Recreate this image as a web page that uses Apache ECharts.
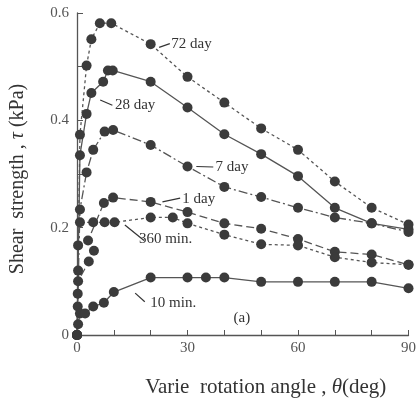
<!DOCTYPE html>
<html><head><meta charset="utf-8">
<script src="https://cdn.jsdelivr.net/npm/echarts@6/dist/echarts.min.js"></script>
<style>html,body{margin:0;padding:0;background:#fff}#c{width:419px;height:403px}</style>
</head><body><div id="c"></div>
<script>
// [theta (deg), tau (kPa)]
const day72 = [[0,0],[0.8,0.373],[2.6,0.502],[3.9,0.551],[6.2,0.581],[9.3,0.581],[20,0.542],[30,0.481],[40,0.433],[50,0.385],[60,0.345],[70,0.286],[80,0.237],[90,0.206]];
const day28 = [[0,0],[0.8,0.335],[2.6,0.412],[3.9,0.451],[7.1,0.472],[8.4,0.493],[9.7,0.493],[20,0.472],[30,0.424],[40,0.374],[50,0.337],[60,0.296],[70,0.237],[80,0.208],[90,0.197]];
const day7 = [[0,0],[0.8,0.234],[2.6,0.303],[4.4,0.345],[7.5,0.379],[9.8,0.382],[20,0.354],[30,0.314],[40,0.276],[50,0.257],[60,0.237],[70,0.219],[80,0.208],[90,0.192]];
const day1 = [[0,0],[0.2,0.053],[0.3,0.10],[3.2,0.137],[4.6,0.157],[3.0,0.176],[7.3,0.246],[9.8,0.256],[20,0.248],[30,0.229],[40,0.208],[50,0.198],[60,0.179],[70,0.155],[80,0.150],[90,0.131]];
const min360 = [[0,0],[0.2,0.077],[0.3,0.12],[0.3,0.167],[0.8,0.21],[4.4,0.21],[7.5,0.21],[10.2,0.21],[20,0.219],[26,0.219],[30,0.208],[40,0.187],[50,0.169],[60,0.167],[70,0.145],[80,0.135],[90,0.131]];
const min10 = [[0,0],[0.3,0.02],[0.8,0.04],[2.2,0.04],[4.4,0.053],[7.3,0.06],[10,0.08],[20,0.107],[30,0.107],[35,0.107],[40,0.107],[50,0.099],[60,0.099],[70,0.099],[80,0.099],[90,0.087]];

const seriesNames = ['72 day','28 day','7 day','1 day','360 min.','10 min.'];
const seriesData = [day72, day28, day7, day1, min360, min10];
const dashTypes = [[3,3],'solid',[9,3,2,3],[8,4],[3,3],'solid'];

const xTickLabels = [0,30,60,90];
const yTickLabels = [0,0.2,0.4,0.6];

// annotation: [text, textX, textY, leaderFromX, leaderFromY, leaderToX, leaderToY] in data coords
const annotations = [
  ['72 day', 25.6, 0.542, 22.3, 0.536, 25.2, 0.543],
  ['28 day', 10.3, 0.428, 6.3, 0.438, 9.6, 0.428],
  ['7 day', 37.6, 0.312, 32.4, 0.314, 37.0, 0.313],
  ['1 day', 28.6, 0.254, 23.2, 0.248, 28.0, 0.255],
  ['360 min.', 16.8, 0.178, 13.0, 0.205, 18.2, 0.176],
  ['10 min.', 19.9, 0.060, 15.8, 0.078, 18.4, 0.062],
  ['(a)', 42.5, 0.031, null, null, null, null]
];

const chart = echarts.init(document.getElementById('c'), null, {renderer:'canvas'});
const serif = '"Liberation Serif","DejaVu Serif",serif';
const option = {
  animation: false,
  grid: {left: 77, right: 7, top: 13, bottom: 59},
  xAxis: {
    type: 'value', min: 0, max: 90, interval: 10,
    name: 'Varie  rotation angle , {i|θ}(deg)',
    nameLocation: 'middle', nameGap: 42,
    nameTextStyle: {fontFamily: serif, fontSize: 21, color: '#333', padding: [0,0,0,46],
      rich: {i: {fontFamily: serif, fontStyle: 'italic', fontSize: 21, color: '#333'}}},
    axisLine: {lineStyle: {color: '#555', width: 1.3}},
    axisTick: {inside: true, length: 5, lineStyle: {color: '#555'}},
    axisLabel: {fontFamily: serif, fontSize: 15, color: '#555', margin: 6,
      formatter: v => xTickLabels.indexOf(v) >= 0 ? String(v) : ''},
    splitLine: {show: false}
  },
  yAxis: {
    type: 'value', min: 0, max: 0.6, interval: 0.1,
    name: 'Shear  strength , {i|τ} (kPa)',
    nameLocation: 'middle', nameGap: 49, nameRotate: 90,
    nameTextStyle: {fontFamily: serif, fontSize: 20, color: '#333', padding: [0,10,0,0],
      rich: {i: {fontFamily: serif, fontStyle: 'italic', fontSize: 20, color: '#333'}}},
    axisLine: {lineStyle: {color: '#555', width: 1.3}},
    axisTick: {inside: true, length: 6, lineStyle: {color: '#555'}},
    axisLabel: {fontFamily: serif, fontSize: 15, color: '#555', margin: 8,
      formatter: v => { const r = Math.round(v*10)/10; return yTickLabels.some(t => Math.abs(t-r)<1e-9) ? (r===0?'0':r.toFixed(1)) : ''; }},
    splitLine: {show: false}
  },
  series: seriesData.map((d, i) => ({
    name: seriesNames[i], type: 'line', data: d,
    symbol: 'circle', symbolSize: 10,
    itemStyle: {color: '#3b3b3b'},
    lineStyle: {color: '#555', width: 1.3, type: dashTypes[i]},
    emphasis: {disabled: true}
  }))
};
chart.setOption(option);

const g = [];
annotations.forEach(a => {
  const p = chart.convertToPixel({gridIndex: 0}, [a[1], a[2]]);
  g.push({type: 'text', x: p[0], y: p[1], style: {text: a[0], fontFamily: serif, fontSize: 15, fill: '#333', textVerticalAlign: 'middle', textAlign: 'left'}});
  if (a[3] !== null) {
    const p1 = chart.convertToPixel({gridIndex: 0}, [a[3], a[4]]);
    const p2 = chart.convertToPixel({gridIndex: 0}, [a[5], a[6]]);
    g.push({type: 'line', shape: {x1: p1[0], y1: p1[1], x2: p2[0], y2: p2[1]}, style: {stroke: '#333', lineWidth: 1.2}});
  }
});
chart.setOption({graphic: g});
</script></body></html>
